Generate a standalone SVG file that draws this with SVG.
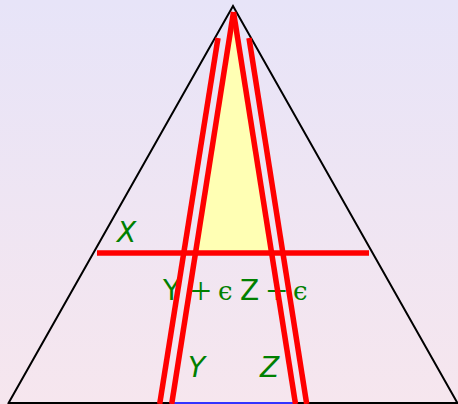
<svg xmlns="http://www.w3.org/2000/svg" width="458" height="404" viewBox="0 0 458 404">
<defs>
<linearGradient id="bg" x1="0" y1="0" x2="0" y2="1">
<stop offset="0" stop-color="#e7e4f8"/>
<stop offset="1" stop-color="#f6e6ee"/>
</linearGradient>
<style>
.blk{stroke:#000;stroke-width:2;fill:none}
.red{stroke:#ff0000;stroke-width:5.5;fill:none}
.lbl{fill:#008000;font-family:"DejaVu Sans",sans-serif;font-size:28px}
.it{font-style:oblique}
.op{fill:#008000;font-family:"Liberation Serif","DejaVu Serif",serif;font-size:38px}
.ep{fill:#008000;font-family:"DejaVu Serif",serif;font-size:26px}
</style>
</defs>
<rect x="0" y="0" width="458" height="404" fill="url(#bg)"/>
<g id="yellow-region">
<polygon points="233.5,12 195.5,253 271.5,253" fill="#ffffb4"/>
</g>
<g id="triangle">
<polyline class="blk" points="8,404 233,6 458,404"/>
<line class="blk" x1="8" y1="403" x2="458" y2="403"/>
<line x1="170" y1="403" x2="297" y2="403" stroke="#3333ff" stroke-width="2"/>
</g>
<g id="labels">
<text class="lbl it" x="117" y="242">X</text>
<text class="lbl" x="163" y="300">Y</text>
<text class="op" x="190" y="304">+</text>
<text class="ep" x="218" y="300">ϵ</text>
<text class="lbl" x="240" y="300">Z</text>
<text class="op" x="266" y="304">+</text>
<text class="ep" x="293" y="300">ϵ</text>
<text class="lbl it" x="188" y="377">Y</text>
<text class="lbl it" x="260" y="377">Z</text>
</g>
<g id="connectors">
<line class="red" x1="233.5" y1="12" x2="171.7" y2="404"/>
<line class="red" x1="233.5" y1="12" x2="295.5" y2="404"/>
<line class="red" x1="218" y1="38" x2="159.7" y2="404"/>
<line class="red" x1="249" y1="38" x2="306.7" y2="404"/>
<line class="red" x1="97" y1="253" x2="369" y2="253"/>
</g>
</svg>
